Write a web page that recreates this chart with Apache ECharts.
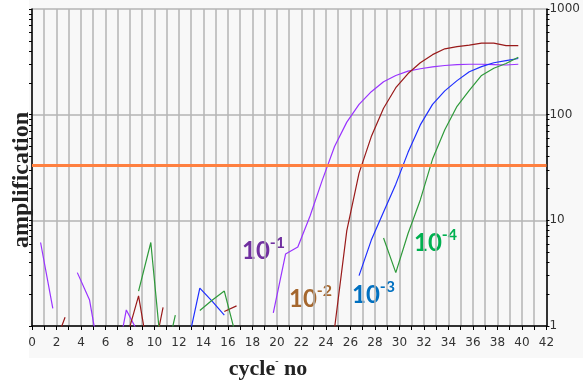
<!DOCTYPE html>
<html>
<head>
<meta charset="utf-8">
<script src="https://cdn.jsdelivr.net/npm/echarts@6/dist/echarts.min.js"></script>
<style>
  html, body { margin: 0; padding: 0; background: #fff; }
  #main { width: 583px; height: 387px; }
</style>
</head>
<body>
<div id="main"></div>
<script>
// qPCR 扩增曲线 - 稀释梯度 10^-1 .. 10^-4
// 每个循环的读数（x 轴位置 = 循环号 - 0.3），'-' 表示该处无数据
const cycles = [0.7, 1.7, 2.7, 3.7, 4.7, 5.7, 6.7, 7.7, 8.7, 9.7,
  10.7, 11.7, 12.7, 13.7, 14.7, 15.7, 16.7, 17.7, 18.7, 19.7,
  20.7, 21.7, 22.7, 23.7, 24.7, 25.7, 26.7, 27.7, 28.7, 29.7,
  30.7, 31.7, 32.7, 33.7, 34.7, 35.7, 36.7, 37.7, 38.7, 39.7];

const dil1 = [6.17, 1.47, '-', 3.2, 1.76, 0.38, 0.35, 1.42, 0.85, '-',
  '-', '-', '-', '-', '-', '-', '-', '-', '-', 1.33,
  4.8, 5.6, 11, 24, 50, 85, 125, 165, 205, 235,
  258, 272, 283, 292, 298, 300, 300, 298, 295, 300];

const dil2 = ['-', 0.59, 1.21, '-', '-', '-', '-', 0.75, 1.93, 0.4,
  1.5, '-', '-', '-', '-', 1.37, 1.55, '-', '-', '-',
  '-', '-', '-', '-', 0.95, 8, 28, 62, 115, 180,
  245, 310, 370, 420, 440, 455, 475, 475, 450, 450];

const dil3 = ['-', '-', '-', '-', '-', '-', '-', '-', '-', '-',
  '-', '-', 0.66, 2.28, 1.72, 1.27, '-', '-', '-', '-',
  '-', '-', '-', '-', '-', '-', 3, 6.5, 12, 22,
  44, 80, 125, 168, 210, 255, 285, 310, 325, 340];

const dil4 = ['-', '-', '-', '-', '-', '-', '-', '-', 2.14, 6.17,
  0.38, 1.27, '-', 1.4, 1.75, 2.14, 0.76, '-', '-', '-',
  '-', '-', '-', '-', '-', '-', '-', '-', 6.8, 3.2,
  7.5, 15.6, 38, 72, 120, 170, 235, 275, 305, 350];

const threshold = 33;

const xLabels = [0, 2, 4, 6, 8, 10, 12, 14, 16, 18, 20, 22, 24, 26, 28, 30, 32, 34, 36, 38, 40, 42];
const yLabels = [1, 10, 100, 1000];
const yMinorTicks = [1, 2, 3, 4, 5, 6, 7, 8, 9, 10, 20, 30, 40, 50, 60, 70, 80, 90,
  100, 200, 300, 400, 500, 600, 700, 800, 900, 1000];

const curveColors = ['#9933FF', '#991A1A', '#1F2FFF', '#2E9A3A'];
const labelColors = ['#7030A0', '#A5672E', '#0070C0', '#00B050'];
const labelSup = ['-1', '-2', '-3', '-4'];
// 标注文字位置（像素）
const labelPos = [[242, 263], [289, 311], [352, 307], [414, 255]];

const toPairs = (vals) => cycles.map((c, i) => [c, vals[i]]);

document.addEventListener("DOMContentLoaded", function () {
  var chart = echarts.init(document.getElementById("main"));

  const lineSeries = [dil1, dil2, dil3, dil4].map((vals, i) => ({
    type: 'line',
    data: toPairs(vals),
    yAxisIndex: 0,
    showSymbol: false,
    symbol: 'none',
    clip: true,
    connectNulls: false,
    lineStyle: { color: curveColors[i], width: 1.2 },
    itemStyle: { color: curveColors[i] },
    z: 3
  }));

  const logAxisBase = {
    type: 'log', logBase: 10, min: 1, max: 1000,
    axisLine: { onZero: false, lineStyle: { color: '#000', width: 1.5 } }
  };

  chart.setOption({
    animation: false,
    backgroundColor: '#fff',
    grid: { left: 32, right: 35, top: 9, bottom: 61 },
    xAxis: {
      type: 'value', min: 0, max: 42, interval: 1,
      axisLine: { onZero: false, lineStyle: { color: '#000', width: 1.5 } },
      axisTick: { length: 4, lineStyle: { color: '#000' } },
      axisLabel: {
        customValues: xLabels, color: '#333', fontFamily: 'DejaVu Sans',
        fontSize: 12, margin: 11
      },
      splitLine: { show: true, lineStyle: { color: '#b4b4b4', width: 1.5 } }
    },
    yAxis: [
      Object.assign({}, logAxisBase, {
        position: 'left',
        axisTick: { customValues: yMinorTicks, length: 3, lineStyle: { color: '#000' } },
        axisLabel: { show: false },
        splitLine: { show: false }
      }),
      Object.assign({}, logAxisBase, {
        position: 'right',
        axisTick: { customValues: yMinorTicks, length: 3, lineStyle: { color: '#000' } },
        axisLabel: {
          customValues: yLabels, color: '#333', fontFamily: 'DejaVu Sans',
          fontSize: 12, margin: 3,
          formatter: (v) => String(Math.round(v))
        },
        splitLine: { show: false }
      }),
      Object.assign({}, logAxisBase, {
        position: 'left',
        axisLine: { show: false, onZero: false },
        axisTick: { show: false },
        axisLabel: { show: false },
        splitLine: { show: true, lineStyle: { color: '#b4b4b4', width: 1.5 } }
      })
    ],
    series: lineSeries.concat([{
      type: 'line',
      data: [],
      yAxisIndex: 0,
      z: 4,
      markLine: {
        silent: true,
        symbol: ['none', 'none'],
        label: { show: false },
        lineStyle: { color: '#FF8040', width: 3, type: 'solid' },
        data: [{ yAxis: threshold }]
      }
    }]),
    graphic: [
      {
        type: 'rect', z: -10, silent: true,
        shape: { x: 29, y: 0, width: 554, height: 358 },
        style: { fill: '#f8f8f8' }
      },
      {
        type: 'text', x: 22, y: 180, rotation: Math.PI / 2,
        style: {
          text: 'amplification', fill: '#222',
          font: 'bold 24px "Liberation Serif"',
          textAlign: 'center', textVerticalAlign: 'middle'
        }
      },
      {
        type: 'text', x: 268, y: 368,
        style: {
          text: '{t|cycle}{m|-}{t| no}',
          textAlign: 'center', textVerticalAlign: 'middle',
          rich: {
            t: { fontSize: 22, fontWeight: 'bold', fontFamily: 'Liberation Serif', fill: '#222', verticalAlign: 'bottom' },
            m: { fontSize: 10, fontFamily: 'Liberation Serif', fill: '#222', verticalAlign: 'bottom', padding: [0, 0, 14, 0] }
          }
        }
      }
    ].concat(labelSup.map((sup, i) => ({
      type: 'text', x: labelPos[i][0], y: labelPos[i][1],
      style: {
        text: '{b|10}{s|' + sup + '}',
        textVerticalAlign: 'bottom',
        rich: {
          b: { fontSize: 24, fontWeight: 'bold', fontFamily: 'Lato', fill: labelColors[i], verticalAlign: 'bottom' },
          s: { fontSize: 16, fontWeight: 'bold', fontFamily: 'Lato', fill: labelColors[i], verticalAlign: 'bottom', padding: [0, 0, 12, 0] }
        }
      }
    })))
  });
});
</script>
</body>
</html>
